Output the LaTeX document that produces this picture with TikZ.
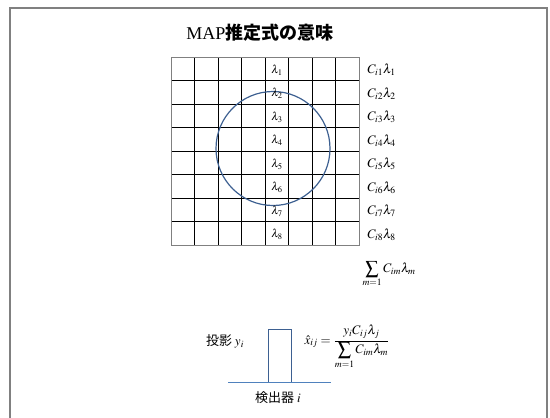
\documentclass[tikz,border=0pt]{standalone}
\usepackage{mathptmx}
\usepackage{fontspec}
\setmainfont{Liberation Serif}
\newfontfamily\jpfont{Noto Sans CJK JP}
\definecolor{ringblue}{RGB}{61,96,145}
\definecolor{detblue}{RGB}{79,129,189}

\begin{document}
\begin{tikzpicture}[x=1pt, y=-1pt]
\useasboundingbox (0,0) rectangle (550,418);
\draw[gray, line width=1.5pt] (10,8) rectangle (547,440);
\node (title) at (260,33) {\fontsize{18}{20}\selectfont MAP{\jpfont\bfseries 推定式の意味}};

\foreach \x in {194.5,218,241.5,265,288.5,312,335.5}
  \draw (\x,57) -- (\x,245);
\foreach \y in {80.5,104,127.5,151,174.5,198,221.5}
  \draw (171,\y) -- (359,\y);
\draw[gray] (171,57) rectangle (359,245);
\draw[ringblue, line width=1.2pt] (273,148.5) circle (57);

\node (lam1) at (277,70) {\fontsize{11.5}{13}\selectfont $\lambda_1$};
\node (lam2) at (277,93.5) {\fontsize{11.5}{13}\selectfont $\lambda_2$};
\node (lam3) at (277,117) {\fontsize{11.5}{13}\selectfont $\lambda_3$};
\node (lam4) at (277,140.5) {\fontsize{11.5}{13}\selectfont $\lambda_4$};
\node (lam5) at (277,164) {\fontsize{11.5}{13}\selectfont $\lambda_5$};
\node (lam6) at (277,187.5) {\fontsize{11.5}{13}\selectfont $\lambda_6$};
\node (lam7) at (277,211) {\fontsize{11.5}{13}\selectfont $\lambda_7$};
\node (lam8) at (277,234.5) {\fontsize{11.5}{13}\selectfont $\lambda_8$};

\node[anchor=west] (cl1) at (364,70) {\fontsize{13}{15}\selectfont $C_{i1}\lambda_1$};
\node[anchor=west] (cl2) at (364,93.5) {\fontsize{13}{15}\selectfont $C_{i2}\lambda_2$};
\node[anchor=west] (cl3) at (364,117) {\fontsize{13}{15}\selectfont $C_{i3}\lambda_3$};
\node[anchor=west] (cl4) at (364,140.5) {\fontsize{13}{15}\selectfont $C_{i4}\lambda_4$};
\node[anchor=west] (cl5) at (364,164) {\fontsize{13}{15}\selectfont $C_{i5}\lambda_5$};
\node[anchor=west] (cl6) at (364,187.5) {\fontsize{13}{15}\selectfont $C_{i6}\lambda_6$};
\node[anchor=west] (cl7) at (364,211) {\fontsize{13}{15}\selectfont $C_{i7}\lambda_7$};
\node[anchor=west] (cl8) at (364,234.5) {\fontsize{13}{15}\selectfont $C_{i8}\lambda_8$};

\node[anchor=west] (total) at (359,274) {\fontsize{13}{15}\selectfont $\displaystyle\sum_{m=1} C_{im}\lambda_m$};

\draw[ringblue, line width=1pt] (268,329) rectangle (291,382);
\coordinate (detL) at (228,382.5);
\coordinate (detR) at (331,382.5);
\draw[detblue, line width=1.8pt] (detL) -- (detR);
\node (proj) at (225,341) {\fontsize{13}{15}\selectfont\jpfont 投影 \rmfamily$y_i$};
\node (det) at (278,398) {\fontsize{13}{15}\selectfont\jpfont 検出器 \rmfamily$i$};
\node[anchor=west] (est) at (301,347) {\fontsize{13}{15}\selectfont $\displaystyle\hat{x}_{ij}=\frac{y_i C_{ij}\lambda_j}{\displaystyle\sum_{m=1} C_{im}\lambda_m}$};
\end{tikzpicture}
\end{document}
